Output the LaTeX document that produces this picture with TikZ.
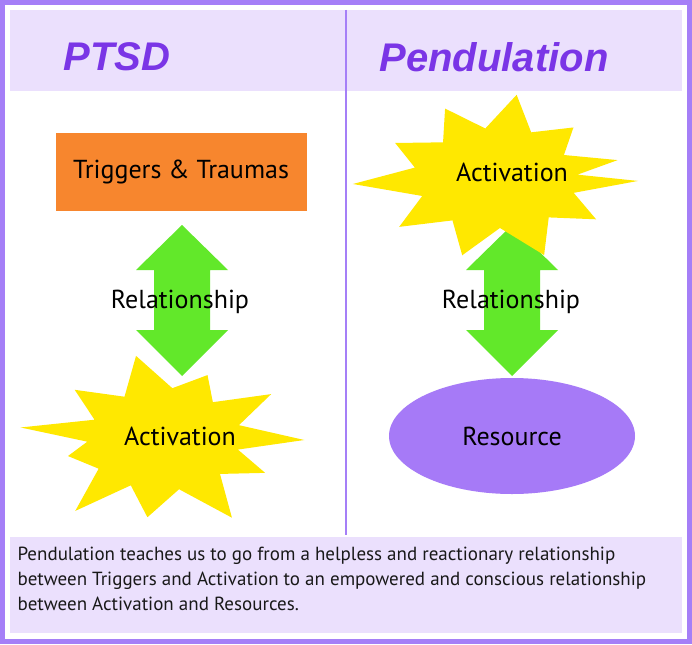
\documentclass[tikz,border=0pt]{standalone}
\usepackage{fontspec}
\setmainfont{PT Sans}
\newfontfamily\titlefont{Liberation Sans}
\usetikzlibrary{shapes.geometric}
\definecolor{frame}{HTML}{A57FF7}
\definecolor{band}{HTML}{EBE0FD}
\definecolor{title}{HTML}{7A35E6}
\definecolor{orangebox}{HTML}{F7862E}
\definecolor{star}{HTML}{FFE800}
\definecolor{arrowgreen}{HTML}{62E82A}
\definecolor{res}{HTML}{A67AF7}
\begin{document}
\begin{tikzpicture}[x=1pt, y=-1pt,
  ttl/.style={font=\titlefont\fontsize{40}{40}\selectfont\bfseries\itshape, text=title},
  lbl/.style={font=\fontsize{26}{26}\selectfont},
  burst/.style={fill=star, draw=none},
  dbl/.style={fill=arrowgreen, draw=none},
  ]
  \useasboundingbox (0,0) rectangle (692,644);
  \fill[frame] (0,0) rectangle (692,644);
  \fill[white] (5,5) rectangle (687,639);
  \fill[band] (10,10) rectangle (682,91);
  \fill[band] (10,537) rectangle (682,633);
  \draw[frame, line width=2pt] (346,10) -- (346,535);

  \node[ttl] (t1) at (117,57) {PTSD};
  \node[ttl] (t2) at (494,57) {Pendulation};

  % double arrows (drawn as polygons)
  \foreach \cx in {182,512}{
    \fill[dbl] (\cx,225) -- (\cx+46,270) -- (\cx+28,270) -- (\cx+28,330) -- (\cx+46,330)
      -- (\cx,376) -- (\cx-46,330) -- (\cx-28,330) -- (\cx-28,270) -- (\cx-46,270) -- cycle;
  }

  % starbursts
  \begin{scope}[shift={(165,440)}, xscale=1.62]
    \fill[burst] (0:86) -- (12:46) -- (28:70) -- (45:48) -- (62:88) -- (80:50) -- (98:78)
      -- (115:50) -- (128:90) -- (145:50) -- (165:62) -- (178:48) -- (188:90)
      -- (205:48) -- (222:75) -- (240:50) -- (258:86) -- (275:52) -- (292:70)
      -- (308:48) -- (325:80) -- (342:48) -- cycle;
  \end{scope}
  \begin{scope}[shift={(497,178)}, xscale=1.68]
    \fill[burst] (2:84) -- (18:48) -- (35:72) -- (52:50) -- (70:82) -- (88:50) -- (105:80)
      -- (122:50) -- (140:76) -- (158:48) -- (176:86) -- (192:50) -- (210:70)
      -- (228:48) -- (246:76) -- (262:50) -- (278:84) -- (294:50) -- (312:68)
      -- (330:46) -- (346:74) -- (356:48) -- cycle;
  \end{scope}

  \node[fill=orangebox, minimum width=251pt, minimum height=78pt, lbl] (tt) at (181,172) {Triggers \& Traumas};
  \node[lbl] (r1) at (180,302) {Relationship};
  \node[lbl] (act1) at (180,436) {Activation};

  \node[lbl] (act2) at (512,172) {Activation};
  \node[lbl] (r2) at (511,302) {Relationship};
  \node[ellipse, fill=res, minimum width=246pt, minimum height=116pt, lbl] (rs) at (512,436) {Resource};

  \node[anchor=north west, align=left,
    font=\fontsize{19}{25}\selectfont, text=black!90] (txt) at (14,544)
    {Pendulation teaches us to go from a helpless and reactionary relationship\\
     between Triggers and Activation to an empowered and conscious relationship\\
     between Activation and Resources.};
\end{tikzpicture}
\end{document}
